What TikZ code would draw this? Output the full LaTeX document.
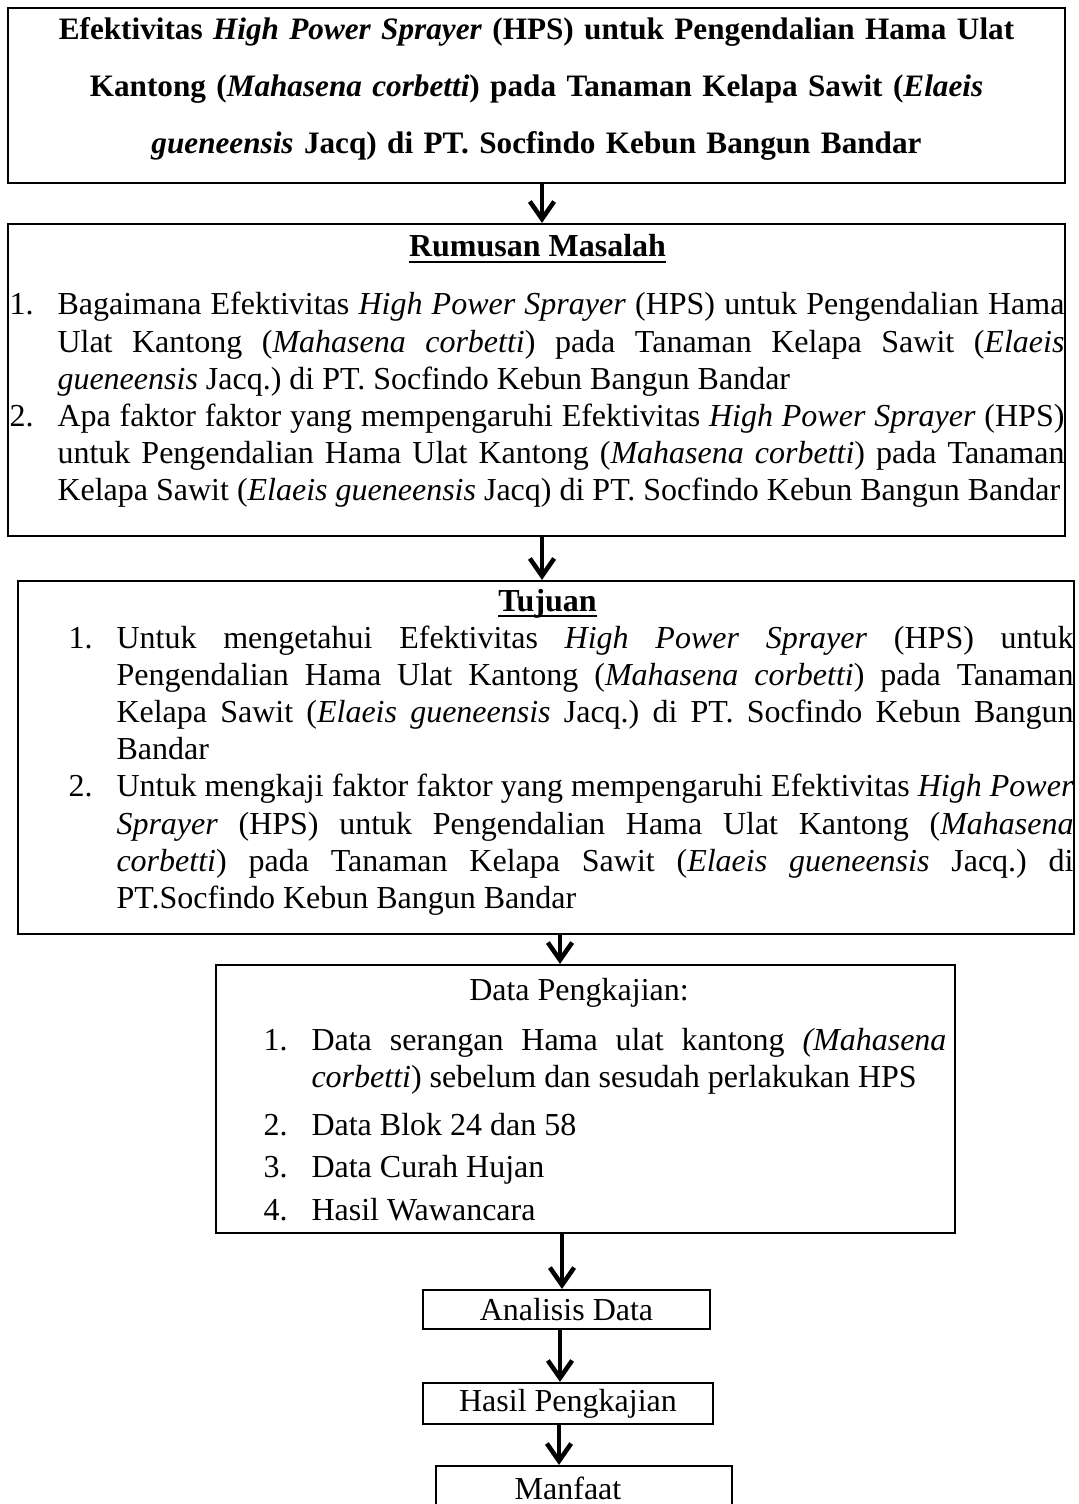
\documentclass[tikz,border=0pt]{standalone}
\usepackage{fontspec}
\setmainfont{Liberation Serif}
\usetikzlibrary{arrows.meta}
\frenchspacing

\newcommand{\ulhead}[1]{\setbox0\hbox{#1}\rlap{\rule[-2.4pt]{\wd0}{0.9pt}}\box0}
\newcommand{\numitem}[2]{\hangindent=18pt\relax\hangafter=1\relax\noindent\makebox[18pt][l]{#1}#2\par}
\newcommand{\justifyhere}{\rightskip=0pt\relax\leftskip=0pt\relax\spaceskip=0pt\relax
  \xspaceskip=0pt\relax\parfillskip=0pt plus 1fil\relax
  \tolerance=10000\relax\hyphenpenalty=10000\relax}

\begin{document}
\begin{tikzpicture}[x=0.375pt,y=-0.375pt,
  box/.style={draw,line width=0.8pt,inner sep=0pt},
  txt/.style={inner sep=0pt,anchor=base west,
              font=\fontsize{12}{13.95}\selectfont},
  head/.style={inner sep=0pt,anchor=base,font=\fontsize{12}{13.95}\selectfont\bfseries},
  stepbox/.style={box,font=\fontsize{12}{13.95}\selectfont},
  arr/.style={-{Straight Barb[length=2.3mm,width=3.2mm]},line width=1.7pt}
]
\clip (0,0) rectangle (1078,1504);

% frames
\node[box,minimum width=396.4pt,minimum height=65.6pt] (title) at (536.5,95.5) {};
\node[box,minimum width=396.4pt,minimum height=117pt] (rumusan) at (536.5,380) {};
\node[box,minimum width=396pt,minimum height=132.4pt] (tujuan) at (546,757.5) {};
\node[box,minimum width=277.1pt,minimum height=100.5pt] (data) at (585.5,1099) {};
\node[stepbox,minimum width=107.6pt,minimum height=14.6pt] (analisis) at (566.5,1309.5) {Analisis Data};
\node[stepbox,minimum width=108.75pt,minimum height=15.4pt] (hasil) at (568,1403.5) {Hasil Pengkajian};
\node[stepbox,minimum width=111pt,minimum height=16.5pt] (manfaat) at (584,1488) {Manfaat\kern12pt};

% title
\node[head,text width=395pt,align=center,
      font=\fontsize{11.7}{21.2}\selectfont\bfseries] (titletext) at (536.5,40)
  {Efektivitas \textit{High Power Sprayer} (HPS) untuk Pengendalian Hama Ulat\\
   Kantong (\textit{Mahasena corbetti}) pada Tanaman Kelapa Sawit (\textit{Elaeis}\\
   \textit{gueneensis} Jacq) di PT. Socfindo Kebun Bangun Bandar};

% rumusan masalah
\node[head] (rumhead) at (537.5,257) {\ulhead{Rumusan Masalah}};
\node[txt,text width=395.6pt] (rumtext) at (9,315) {\justifyhere
  \numitem{1.}{Bagaimana Efektivitas \textit{High Power Sprayer} (HPS) untuk Pengendalian Hama\linebreak
    Ulat Kantong (\textit{Mahasena corbetti}) pada Tanaman Kelapa Sawit (\textit{Elaeis}\linebreak
    \textit{gueneensis} Jacq.) di PT. Socfindo Kebun Bangun Bandar}%
  \numitem{2.}{Apa faktor faktor yang mempengaruhi Efektivitas \textit{High Power Sprayer} (HPS)\linebreak
    untuk Pengendalian Hama Ulat Kantong (\textit{Mahasena corbetti}) pada Tanaman\linebreak
    Kelapa Sawit (\textit{Elaeis gueneensis} Jacq) di PT. Socfindo Kebun Bangun Bandar}};

% tujuan
\node[head] (tujhead) at (547.5,611) {\ulhead{Tujuan}};
\node[txt,text width=376.9pt] (tujtext) at (68,648) {\justifyhere
  \numitem{1.}{Untuk mengetahui Efektivitas \textit{High Power Sprayer} (HPS) untuk\linebreak
    Pengendalian Hama Ulat Kantong (\textit{Mahasena corbetti}) pada Tanaman\linebreak
    Kelapa Sawit (\textit{Elaeis gueneensis} Jacq.) di PT. Socfindo Kebun Bangun\linebreak
    Bandar}%
  \numitem{2.}{Untuk mengkaji faktor faktor yang mempengaruhi Efektivitas \textit{High Power}\linebreak
    \textit{Sprayer} (HPS) untuk Pengendalian Hama Ulat Kantong (\textit{Mahasena}\linebreak
    \textit{corbetti}) pada Tanaman Kelapa Sawit (\textit{Elaeis gueneensis} Jacq.) di\linebreak
    PT.Socfindo Kebun Bangun Bandar}};

% data pengkajian
\node[head,font=\fontsize{12}{13.95}\selectfont] (datahead) at (579,1000) {Data Pengkajian:};
\node[txt,text width=256.1pt] (datatext) at (263,1050) {\justifyhere
  \numitem{1.}{Data serangan Hama ulat kantong \textit{(Mahasena}\linebreak
    \textit{corbetti}) sebelum dan sesudah perlakukan HPS}\vskip4pt
  \numitem{2.}{Data Blok 24 dan 58}\vskip2pt
  \numitem{3.}{Data Curah Hujan}\vskip2pt
  \numitem{4.}{Hasil Wawancara}};

% arrows
\draw[arr] (title.south -| 542,0) -- (rumusan.north -| 542,0);
\draw[arr] (rumusan.south -| 542,0) -- (tujuan.north -| 542,0);
\draw[arr] (tujuan.south -| 560,0) -- (data.north -| 560,0);
\draw[arr] (data.south -| 562,0) -- (analisis.north -| 562,0);
\draw[arr] (analisis.south -| 560,0) -- (hasil.north -| 560,0);
\draw[arr] (hasil.south -| 559,0) -- (manfaat.north -| 559,0);
\end{tikzpicture}
\end{document}
